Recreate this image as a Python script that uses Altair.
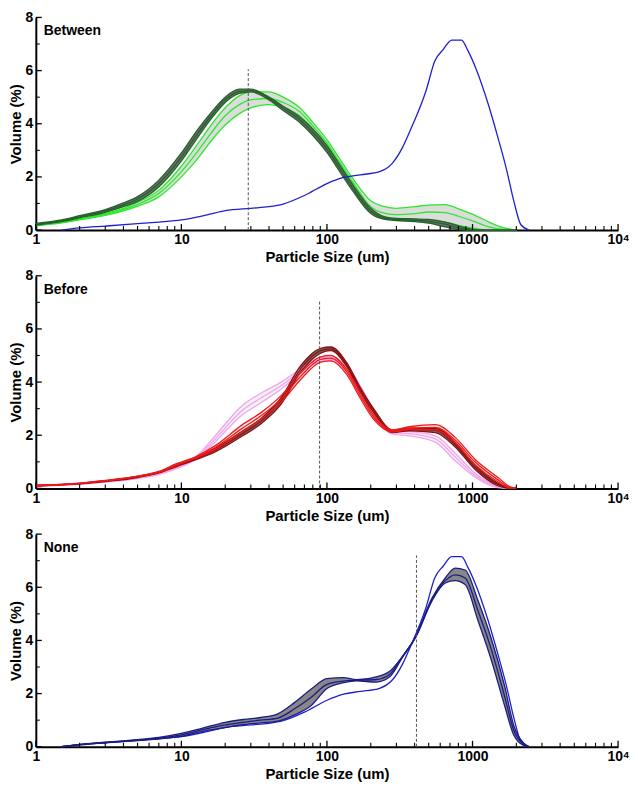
import altair as alt
import pandas as pd

FONT = "Liberation Sans"
W, H = 586, 214

# ---------------- data ----------------
# Panel "Between"
X1 = [1, 1.5, 2, 3, 4, 5, 7, 10, 13, 16, 20, 25, 30, 40, 50, 65, 80, 100, 125, 150,
      200, 250, 300, 400, 500, 650, 800, 1000, 1300, 1600, 2000]
between_dark_hi = [0.25, 0.38, 0.54, 0.77, 1.02, 1.26, 1.88, 2.9, 3.8, 4.42, 5.0, 5.3, 5.3, 5.0, 4.66,
                   4.25, 3.8, 3.18, 2.38, 1.72, 0.82, 0.5, 0.44, 0.42, 0.4, 0.3, 0.16, 0.03, 0, 0, 0]
between_dark_mid = [0.22, 0.35, 0.5, 0.72, 0.95, 1.17, 1.75, 2.75, 3.65, 4.3, 4.9, 5.22, 5.25, 4.95, 4.58,
                    4.15, 3.68, 3.05, 2.25, 1.6, 0.72, 0.45, 0.4, 0.37, 0.33, 0.22, 0.08, 0.0, 0, 0, 0]
between_dark_lo = [0.19, 0.32, 0.46, 0.67, 0.88, 1.08, 1.62, 2.6, 3.5, 4.18, 4.8, 5.14, 5.2, 4.9, 4.5,
                   4.05, 3.56, 2.92, 2.12, 1.48, 0.62, 0.4, 0.36, 0.32, 0.26, 0.12, 0.02, 0, 0, 0, 0]
between_green_hi = [0.2, 0.3, 0.42, 0.62, 0.82, 1.05, 1.5, 2.4, 3.25, 3.95, 4.6, 5.05, 5.2, 5.2, 5.0,
                    4.6, 4.05, 3.4, 2.6, 1.95, 1.1, 0.88, 0.82, 0.88, 0.94, 0.96, 0.8, 0.6, 0.3, 0.1, 0]
between_green_mid = [0.18, 0.28, 0.4, 0.58, 0.77, 0.97, 1.38, 2.2, 2.98, 3.65, 4.3, 4.72, 4.9, 4.95, 4.8,
                     4.45, 3.92, 3.27, 2.47, 1.82, 0.88, 0.63, 0.58, 0.62, 0.68, 0.66, 0.52, 0.35, 0.12, 0.03, 0]
between_green_lo = [0.16, 0.27, 0.38, 0.55, 0.72, 0.9, 1.25, 2.0, 2.7, 3.35, 3.95, 4.38, 4.6, 4.72, 4.62,
                    4.3, 3.8, 3.15, 2.35, 1.7, 0.68, 0.45, 0.4, 0.4, 0.38, 0.3, 0.18, 0.08, 0, 0, 0]

# single blue reference curve (shown in "Between" and "None")
BX = [1.5, 2, 3, 5, 7, 10, 15, 20, 30, 40, 50, 70, 100, 130, 170, 230, 280, 330, 370, 480,
      550, 630, 720, 840, 930, 1060, 1280, 1500, 1700, 1930, 2150, 2450]
BY = [0, 0.08, 0.15, 0.24, 0.3, 0.38, 0.57, 0.73, 0.82, 0.88, 0.98, 1.3, 1.75, 1.98, 2.08, 2.2,
      2.5, 3.1, 3.7, 5.25, 6.35, 6.8, 7.15, 7.15, 6.75, 6.05, 4.75, 3.45, 2.35, 1.05, 0.2, 0]

# Panel "Before"
X2 = [1, 2, 3, 5, 7, 9.25, 12.6, 17.2, 26, 35.6, 48.6, 66, 90.6, 106, 137, 169, 208, 283, 368,
      556, 760, 1038, 1490, 1820, 2000]
before_dark_hi = [0.11, 0.19, 0.28, 0.45, 0.62, 0.88, 1.16, 1.52, 2.14, 2.65, 3.42, 4.62, 5.27, 5.32,
                  4.72, 3.8, 3.02, 2.2, 2.27, 2.26, 1.74, 0.88, 0.2, 0.02, 0]
before_dark_mid = [0.1, 0.18, 0.27, 0.43, 0.6, 0.85, 1.12, 1.45, 2.05, 2.55, 3.3, 4.5, 5.18, 5.25,
                   4.65, 3.72, 2.95, 2.15, 2.22, 2.18, 1.65, 0.8, 0.15, 0.0, 0]
before_dark_lo = [0.09, 0.17, 0.26, 0.41, 0.58, 0.82, 1.08, 1.38, 1.96, 2.45, 3.18, 4.38, 5.09, 5.18,
                  4.58, 3.64, 2.88, 2.1, 2.17, 2.1, 1.56, 0.72, 0.1, 0, 0]
before_red_hi = [0.12, 0.2, 0.3, 0.46, 0.64, 0.93, 1.2, 1.62, 2.38, 2.87, 3.5, 4.35, 4.95, 5.0, 4.47,
                 3.6, 2.78, 2.2, 2.32, 2.4, 1.92, 1.1, 0.42, 0.06, 0]
before_red_mid = [0.11, 0.19, 0.29, 0.45, 0.62, 0.9, 1.17, 1.55, 2.25, 2.75, 3.37, 4.22, 4.85, 4.9,
                  4.38, 3.5, 2.7, 2.16, 2.27, 2.3, 1.82, 1.0, 0.33, 0.03, 0]
before_red_lo = [0.1, 0.18, 0.28, 0.44, 0.6, 0.87, 1.14, 1.48, 2.12, 2.63, 3.24, 4.1, 4.75, 4.8, 4.28,
                 3.4, 2.62, 2.12, 2.22, 2.2, 1.72, 0.9, 0.25, 0.0, 0]
before_pink_hi = [0.1, 0.17, 0.26, 0.41, 0.58, 0.82, 1.2, 2.0, 3.1, 3.6, 4.0, 4.5, 4.92, 4.92, 4.62,
                  3.88, 2.98, 2.16, 2.14, 1.98, 1.32, 0.58, 0.1, 0, 0]
before_pink_mid = [0.09, 0.16, 0.25, 0.39, 0.55, 0.78, 1.15, 1.88, 2.92, 3.42, 3.87, 4.42, 4.85, 4.86,
                   4.55, 3.8, 2.9, 2.1, 2.06, 1.86, 1.18, 0.5, 0.06, 0, 0]
before_pink_lo = [0.08, 0.15, 0.24, 0.37, 0.52, 0.74, 1.1, 1.77, 2.75, 3.24, 3.74, 4.34, 4.78, 4.8,
                  4.48, 3.72, 2.82, 2.04, 1.98, 1.74, 1.04, 0.43, 0.03, 0, 0]

# Panel "None"
X3 = [1.5, 2, 3, 5, 7, 10, 14, 20, 27, 35, 46, 60, 78, 100, 130, 160, 218, 270, 330, 406,
      528, 650, 760, 890, 1090, 1340, 1660, 1920, 2240, 2450]
none_hi = [0, 0.09, 0.17, 0.27, 0.35, 0.5, 0.7, 0.92, 1.03, 1.1, 1.24, 1.67, 2.17, 2.56, 2.6, 2.52,
           2.63, 2.84, 3.4, 4.15, 5.6, 6.35, 6.72, 6.65, 5.5, 4.1, 2.3, 0.8, 0.14, 0]
none_mid = [0, 0.08, 0.16, 0.25, 0.32, 0.45, 0.64, 0.82, 0.93, 1.0, 1.08, 1.43, 1.86, 2.35, 2.47, 2.5,
            2.53, 2.73, 3.38, 4.13, 5.55, 6.25, 6.47, 6.35, 5.12, 3.7, 1.9, 0.62, 0.09, 0]
none_lo = [0, 0.07, 0.15, 0.23, 0.3, 0.4, 0.58, 0.72, 0.84, 0.9, 0.96, 1.2, 1.55, 2.19, 2.41, 2.48,
           2.43, 2.63, 3.36, 4.1, 5.5, 6.16, 6.25, 6.1, 4.75, 3.3, 1.55, 0.44, 0.05, 0]

# dashed markers: x position, top value
MARK_X = [28.8, 89, 412]
MARK_TOP = [6.05, 7.1, 7.2]
PANEL_NAMES = ["Between", "Before", "None"]

# axis ticks
X_MAJOR = [1, 10, 100, 1000, 10000]
X_MINOR = [m * d for d in [1, 10, 100, 1000] for m in [2, 3, 4, 5, 6, 7, 8, 9]]
Y_MAJOR = [0, 2, 4, 6, 8]
Y_MINOR = [1, 3, 5, 7]

# ---------------- helpers ----------------
xscale = alt.Scale(type="log", domain=[1, 10000], nice=False)
yscale = alt.Scale(domain=[0, 8], nice=False)

xaxis = alt.Axis(title="Particle Size (um)", values=X_MAJOR, ticks=False, grid=False,
                 labelExpr="datum.value == 10000 ? '10\u2074' : format(datum.value, 'd')",
                 labelPadding=3, titlePadding=3, labelFlush=False)
yaxis = alt.Axis(title="Volume (%)", values=Y_MAJOR, ticks=False, grid=False,
                 labelPadding=3, titlePadding=2, labelFlush=False)


def X(field):
    return alt.X(f"{field}:Q", scale=xscale, axis=xaxis)


def Y(field):
    return alt.Y(f"{field}:Q", scale=yscale, axis=yaxis)


def band(xs, lo, mid, hi, line_color, fill_color, width=1.3):
    df = pd.DataFrame({"x": xs, "lo": lo, "mid": mid, "hi": hi})
    base = alt.Chart(df)
    fill = base.mark_area(color=fill_color, opacity=1, interpolate="monotone").encode(
        x=X("x"), y=Y("lo"), y2="hi")
    lines = [base.mark_line(color=line_color, strokeWidth=width, interpolate="monotone")
             .encode(x=X("x"), y=Y(f)) for f in ["lo", "mid", "hi"]]
    return [fill], lines


def single(xs, ys, color, width=1.3):
    df = pd.DataFrame({"x": xs, "y": ys})
    return alt.Chart(df).mark_line(color=color, strokeWidth=width, interpolate="monotone").encode(
        x=X("x"), y=Y("y"))


def xticks(values, length, width):
    return alt.Chart(pd.DataFrame({"x": values})).mark_rule(color="black", strokeWidth=width).encode(
        x=X("x"), y=alt.value(H), y2=alt.value(H - length))


def yticks(values, length, width):
    return alt.Chart(pd.DataFrame({"y": values})).mark_rule(color="black", strokeWidth=width).encode(
        y=Y("y"), x=alt.value(0), x2=alt.value(length))


def decorations(i):
    rule_df = pd.DataFrame({"x": [MARK_X[i]], "y0": [0], "y1": [MARK_TOP[i]]})
    rule = alt.Chart(rule_df).mark_rule(color="#555555", strokeWidth=1, strokeDash=[3, 2]).encode(
        x=X("x"), y=Y("y0"), y2="y1")
    txt = alt.Chart(pd.DataFrame({"t": [PANEL_NAMES[i]]})).mark_text(
        align="left", baseline="middle", font=FONT, fontWeight="bold", fontSize=14, color="black"
    ).encode(text="t:N", x=alt.value(8), y=alt.value(14))
    return [rule, txt,
            xticks(X_MAJOR, 6, 1.3), xticks(X_MINOR, 4, 1.1),
            yticks(Y_MAJOR, 6, 1.3), yticks(Y_MINOR, 4, 1.1)]


# ---------------- panel 1 ----------------
gf, gl = band(X1, between_green_lo, between_green_mid, between_green_hi, "#2bea2b", "#dcdcdc")
df_, dl = band(X1, between_dark_lo, between_dark_mid, between_dark_hi, "#24622a", "#6f6f6f")
p1 = alt.layer(*gf, *gl, *df_, *dl, single(BX, BY, "#1f1fd2"), *decorations(0)).properties(
    width=W, height=H)

# ---------------- panel 2 ----------------
pf, pl = band(X2, before_pink_lo, before_pink_mid, before_pink_hi, "#f4a2ee", "#f3f3f3")
rf, rl = band(X2, before_red_lo, before_red_mid, before_red_hi, "#f01818", "#f0f0f0")
kf, kl = band(X2, before_dark_lo, before_dark_mid, before_dark_hi, "#8a1010", "#707070")
p2 = alt.layer(*pf, *rf, *kf, *pl, *kl, *rl, *decorations(1)).properties(width=W, height=H)

# ---------------- panel 3 ----------------
nf, nl = band(X3, none_lo, none_mid, none_hi, "#1c1c86", "#878787")
p3 = alt.layer(*nf, single(BX, BY, "#1f1fd2"), *nl, *decorations(2)).properties(width=W, height=H)

chart = alt.vconcat(p1, p2, p3, spacing=4).properties(
    padding={"left": 0, "top": 0, "right": 0, "bottom": 0}
).configure_view(stroke=None).configure_axis(
    labelFont=FONT, labelFontSize=14, labelFontWeight="bold", labelColor="black",
    titleFont=FONT, titleFontSize=15, titleFontWeight="bold", titleColor="black",
    domainColor="black", domainWidth=2,
)

chart.save("out.html", embed_options={"renderer": "svg", "actions": False})
